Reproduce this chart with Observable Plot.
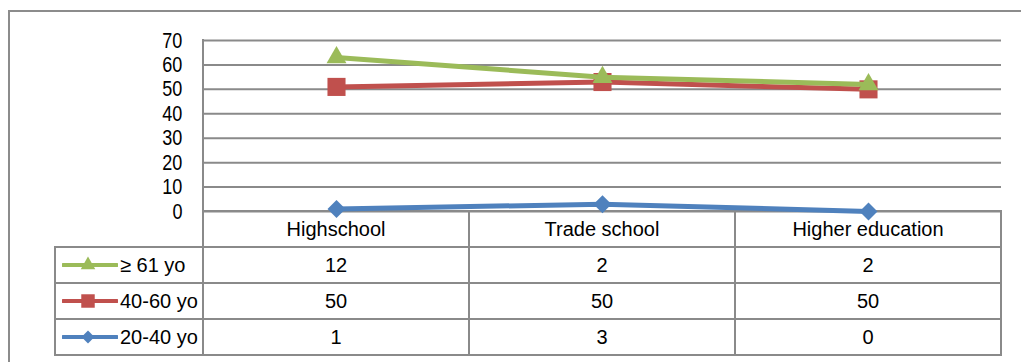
<!DOCTYPE html>
<html>
<head>
<meta charset="utf-8">
<script src="https://cdn.jsdelivr.net/npm/d3@7"></script>
<script src="https://cdn.jsdelivr.net/npm/@observablehq/plot@0.6"></script>
<style>
  body { margin: 0; background: #fff; }
  #chart {
    position: relative; width: 1021px; height: 362px; overflow: hidden;
    font-family: "Liberation Sans", Arial, sans-serif;
    font-size: 20px; color: #000; background: #fff;
  }
  #frame {
    position: absolute; left: 8px; top: 10px; width: 1040px; height: 400px;
    border: 2px solid #8c8c8c; box-sizing: border-box;
  }
  .rule { position: absolute; background: #8a8a8a; }
  .cell {
    position: absolute; display: flex; align-items: center; justify-content: center;
    white-space: nowrap; line-height: 1;
  }
  .key { position: absolute; display: flex; align-items: center; white-space: nowrap; line-height: 1; }
  .key svg { margin-right: 2px; }
  #plot { position: absolute; left: 0; top: 0; }
</style>
</head>
<body>
<div id="chart">
  <div id="frame"></div>
  <div id="table"></div>
  <div id="plot"></div>
</div>
<script>
// Education level by age group (stacked line chart with data table)
const categories = ["Highschool", "Trade school", "Higher education"];
const seriesNames = ["≥ 61 yo", "40-60 yo", "20-40 yo"];   // table order, top to bottom
const over61 = [12, 2, 2];
const age40to60 = [50, 50, 50];
const age20to40 = [1, 3, 0];
const yTicks = [0, 10, 20, 30, 40, 50, 60, 70];

const seriesValues = {"≥ 61 yo": over61, "40-60 yo": age40to60, "20-40 yo": age20to40};
const seriesColors = {"≥ 61 yo": "#9bbb59", "40-60 yo": "#c0504d", "20-40 yo": "#4f81bd"};
const seriesSymbols = {"≥ 61 yo": "triangle", "40-60 yo": "square", "20-40 yo": "diamond2"};
const seriesR = {"≥ 61 yo": 7.4, "40-60 yo": 10.2, "20-40 yo": 8.1};

// Stack from the bottom: 20-40, then 40-60, then ≥ 61
const stackOrder = ["20-40 yo", "40-60 yo", "≥ 61 yo"];
const rows = stackOrder.flatMap(s =>
  categories.map((c, i) => ({category: c, series: s, value: seriesValues[s][i]}))
);

const stacked = {x: "category", y: "value", z: "series", order: stackOrder};
const marks = [
  Plot.gridY({ticks: yTicks, stroke: "#8a8a8a", strokeOpacity: 1, strokeWidth: 2}),
  Plot.axisY({ticks: yTicks, tickSize: 0, tickPadding: 21, fontSize: 22, label: null})
];
for (const s of stackOrder) {
  marks.push(
    Plot.line(rows, Plot.filter(d => d.series === s, Plot.stackY2({
      ...stacked, stroke: seriesColors[s], strokeWidth: 5
    }))),
    Plot.dot(rows, Plot.filter(d => d.series === s, Plot.stackY2({
      ...stacked, fill: seriesColors[s], symbol: seriesSymbols[s], r: seriesR[s], stroke: "none"
    })))
  );
}

const chart = Plot.plot({
  width: 1021,
  height: 213,
  marginTop: 40,
  marginBottom: 2,
  marginLeft: 203,
  marginRight: 20,
  style: {
    background: "transparent", overflow: "visible",
    fontFamily: '"Liberation Sans", Arial, sans-serif',
    fontSize: "20px", color: "#000"
  },
  x: {type: "point", domain: categories, padding: 0.5, axis: null},
  y: {domain: [0, 70], axis: null, label: null},
  marks
});
// narrow the y tick labels horizontally, anchored at their right edge
const labelEdge = 203 - 21;
chart.querySelectorAll('g[aria-label="y-axis tick label"]').forEach(g => {
  const old = g.getAttribute("transform") || "";
  g.setAttribute("transform", `translate(${labelEdge},0) scale(0.82,1) translate(${-labelEdge},0) ${old}`);
});
document.getElementById("plot").appendChild(chart);

// Data table under the plot: header row of categories, one row per series
const table = document.getElementById("table");
const colX = [55, 203, 469, 735, 1001];
const rowY = [211, 247, 283, 319, 355];
function rule(x, y, w, h) {
  const d = document.createElement("div");
  d.className = "rule";
  Object.assign(d.style, {left: x + "px", top: y + "px", width: w + "px", height: h + "px"});
  table.appendChild(d);
}
// vertical axis line and table column lines
rule(colX[1] - 1, 39, 2, rowY[4] - 38);
rule(colX[0] - 1, rowY[1] - 1, 2, rowY[4] - rowY[1] + 2);
for (const x of colX.slice(2)) rule(x - 1, rowY[0] - 1, 2, rowY[4] - rowY[0] + 2);
// horizontal lines
rule(colX[1] - 1, rowY[0] - 1, colX[4] - colX[1] + 2, 2);
for (const y of rowY.slice(1)) rule(colX[0] - 1, y - 1, colX[4] - colX[0] + 2, 2);

function cell(text, x0, x1, y0, y1) {
  const d = document.createElement("div");
  d.className = "cell";
  Object.assign(d.style, {left: x0 + "px", top: y0 + "px", width: (x1 - x0) + "px", height: (y1 - y0) + "px"});
  d.textContent = text;
  table.appendChild(d);
}
categories.forEach((c, i) => cell(c, colX[i + 1], colX[i + 2], rowY[0], rowY[1]));

const keyR = {"≥ 61 yo": 5.4, "40-60 yo": 7.6, "20-40 yo": 5.8};
seriesNames.forEach((s, r) => {
  const y0 = rowY[r + 1], y1 = rowY[r + 2];
  const key = document.createElement("div");
  key.className = "key";
  Object.assign(key.style, {left: "62px", top: y0 + "px", height: (y1 - y0) + "px"});
  const sym = {triangle: d3.symbolTriangle, square: d3.symbolSquare, diamond2: d3.symbolDiamond2}[seriesSymbols[s]];
  const path = d3.symbol(sym, Math.PI * keyR[s] * keyR[s])();
  key.innerHTML =
    `<svg width="56" height="20" viewBox="0 0 56 20">
       <line x1="1" x2="55" y1="10" y2="10" stroke="${seriesColors[s]}" stroke-width="4" stroke-linecap="round"/>
       <path transform="translate(26,10)" d="${path}" fill="${seriesColors[s]}"/>
     </svg><span>${s}</span>`;
  table.appendChild(key);
  seriesValues[s].forEach((v, i) => cell(String(v), colX[i + 1], colX[i + 2], y0, y1));
});
</script>
</body>
</html>
